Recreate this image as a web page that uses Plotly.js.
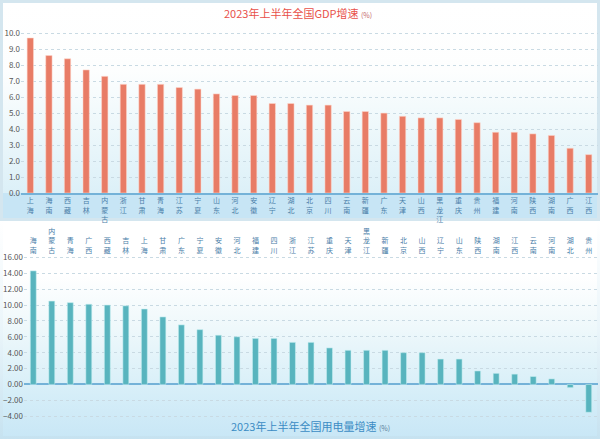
<!DOCTYPE html>
<html>
<head>
<meta charset="utf-8">
<script src="https://cdn.plot.ly/plotly-3.0.1.min.js"></script>
<style>
  html, body { margin: 0; padding: 0; background: #ffffff; }
  #wrap { position: relative; width: 600px; height: 439px; overflow: hidden; background: #ffffff; }
  .bg { position: absolute; }
  #chart { position: absolute; left: 0; top: 0; width: 600px; height: 439px; }
</style>
</head>
<body>
<div id="wrap">
  <div class="bg" style="left:0;top:0;width:600px;height:221px;background:#d4e6ef;"></div>
  <div class="bg" style="left:3px;top:3px;width:594px;height:190px;background:linear-gradient(to bottom,#ffffff 0%,#fdfefe 35%,#eef8fb 65%,#dcf0f8 100%);"></div>
  <div class="bg" style="left:3px;top:193px;width:594px;height:25px;background:#c7e5f5;"></div>
  <div class="bg" style="left:0;top:221px;width:600px;height:218px;background:linear-gradient(to bottom,#ffffff 0%,#eaf5fa 50%,#c6e2f0 100%);"></div>
  <div class="bg" style="left:3px;top:221px;width:594px;height:215px;background:linear-gradient(to bottom,#ffffff 0%,#ffffff 25%,#eef8fb 50%,#d6eef8 80%,#c9e7f6 100%);"></div>
  <div id="chart"></div>
</div>
<script>
// ---- data ----
var gdpProvinces = ['上海','海南','西藏','吉林','内蒙古','浙江','甘肃','青海','江苏','宁夏','山东','河北','安徽','辽宁','湖北','北京','四川','云南','新疆','广东','天津','山西','黑龙江','重庆','贵州','福建','河南','陕西','湖南','广西','江西'];
var gdpGrowth = [9.7,8.6,8.4,7.7,7.3,6.8,6.8,6.8,6.6,6.5,6.2,6.1,6.1,5.6,5.6,5.5,5.5,5.1,5.1,5.0,4.8,4.7,4.7,4.6,4.4,3.8,3.8,3.7,3.6,2.8,2.4];

var elecProvinces = ['海南','内蒙古','青海','广西','西藏','吉林','上海','甘肃','广东','宁夏','安徽','河北','福建','四川','浙江','江苏','重庆','天津','黑龙江','新疆','北京','山西','辽宁','山东','陕西','湖南','江西','云南','河南','湖北','贵州'];
var elecGrowth = [14.3,10.5,10.3,10.1,10.0,9.9,9.5,8.5,7.5,6.9,6.2,6.0,5.8,5.8,5.3,5.3,4.6,4.3,4.3,4.3,4.0,4.0,3.2,3.2,1.7,1.4,1.3,1.0,0.7,-0.4,-3.5];

var gdpTitle = '2023年上半年全国GDP增速';
var elecTitle = '2023年上半年全国用电量增速';
var unitLabel = '(%)';

// ---- helpers ----
function vertical(s) { return s.split('').join('<br>'); }
var W = 600, H = 439;
function px(x) { return x / W; }
function py(y) { return 1 - y / H; }

var FONT = '"Noto Sans CJK SC", "Noto Sans", sans-serif';

var traces = [
  {
    type: 'bar',
    x: gdpProvinces,
    y: gdpGrowth,
    xaxis: 'x', yaxis: 'y',
    width: 0.34,
    marker: { color: '#e87c66', line: { color: 'rgba(255,215,205,0.9)', width: 0.6 } },
    hoverinfo: 'x+y'
  },
  {
    type: 'bar',
    x: elecProvinces,
    y: elecGrowth,
    xaxis: 'x2', yaxis: 'y2',
    width: 0.32,
    marker: { color: '#58b4be', line: { color: 'rgba(200,240,242,0.9)', width: 0.6 } },
    hoverinfo: 'x+y'
  }
];

var gridStyle = { gridcolor: '#c9dae3', griddash: '3px,3px', gridwidth: 1 };

var layout = {
  width: W, height: H,
  margin: { l: 0, r: 0, t: 0, b: 0 },
  paper_bgcolor: 'rgba(0,0,0,0)',
  plot_bgcolor: 'rgba(0,0,0,0)',
  showlegend: false,
  font: { family: FONT, color: '#555555', size: 8 },
  xaxis: {
    domain: [px(21), px(598)],
    anchor: 'y',
    type: 'category',
    tickmode: 'array',
    tickvals: gdpProvinces,
    ticktext: gdpProvinces.map(vertical),
    tickfont: { family: FONT, size: 7, color: '#4a7ea8' },
    tickangle: 0,
    ticks: '',
    showline: true, linecolor: '#74b2d8', linewidth: 2,
    showgrid: false, zeroline: false,
    fixedrange: true
  },
  yaxis: Object.assign({
    domain: [py(193), py(30)],
    anchor: 'x',
    range: [0, 10.2],
    dtick: 1, tick0: 0,
    tickformat: '.1f',
    tickfont: { family: FONT, size: 8, color: '#555555' },
    ticks: '', showline: false, zeroline: false,
    fixedrange: true
  }, gridStyle),
  xaxis2: {
    domain: [px(24), px(598)],
    anchor: 'y2',
    side: 'top',
    type: 'category',
    tickmode: 'array',
    tickvals: elecProvinces,
    ticktext: elecProvinces.map(vertical),
    tickfont: { family: FONT, size: 7, color: '#4a7ea8' },
    tickangle: 0,
    ticks: '',
    showline: false, showgrid: false, zeroline: false,
    fixedrange: true
  },
  yaxis2: Object.assign({
    domain: [py(421), py(255)],
    anchor: 'x2',
    range: [-4.6, 16.3],
    dtick: 2, tick0: 0,
    tickformat: '.2f',
    tickfont: { family: FONT, size: 8, color: '#555555' },
    ticks: '', showline: false,
    zeroline: true, zerolinecolor: '#74b2d8', zerolinewidth: 2,
    fixedrange: true
  }, gridStyle),
  annotations: [
    {
      xref: 'paper', yref: 'paper', x: px(298), y: py(13),
      xanchor: 'center', yanchor: 'middle', showarrow: false,
      text: gdpTitle + ' <span style="font-size:7px;color:#c46a6a">' + unitLabel + '</span>',
      font: { family: FONT, size: 11, color: '#e8504a' }
    },
    {
      xref: 'paper', yref: 'paper', x: px(310), y: py(426),
      xanchor: 'center', yanchor: 'middle', showarrow: false,
      text: elecTitle + ' <span style="font-size:7px;color:#5a7f9a">' + unitLabel + '</span>',
      font: { family: FONT, size: 11, color: '#3b8cc4' }
    }
  ]
};

Plotly.newPlot('chart', traces, layout, { displayModeBar: false, staticPlot: true });
</script>
</body>
</html>
